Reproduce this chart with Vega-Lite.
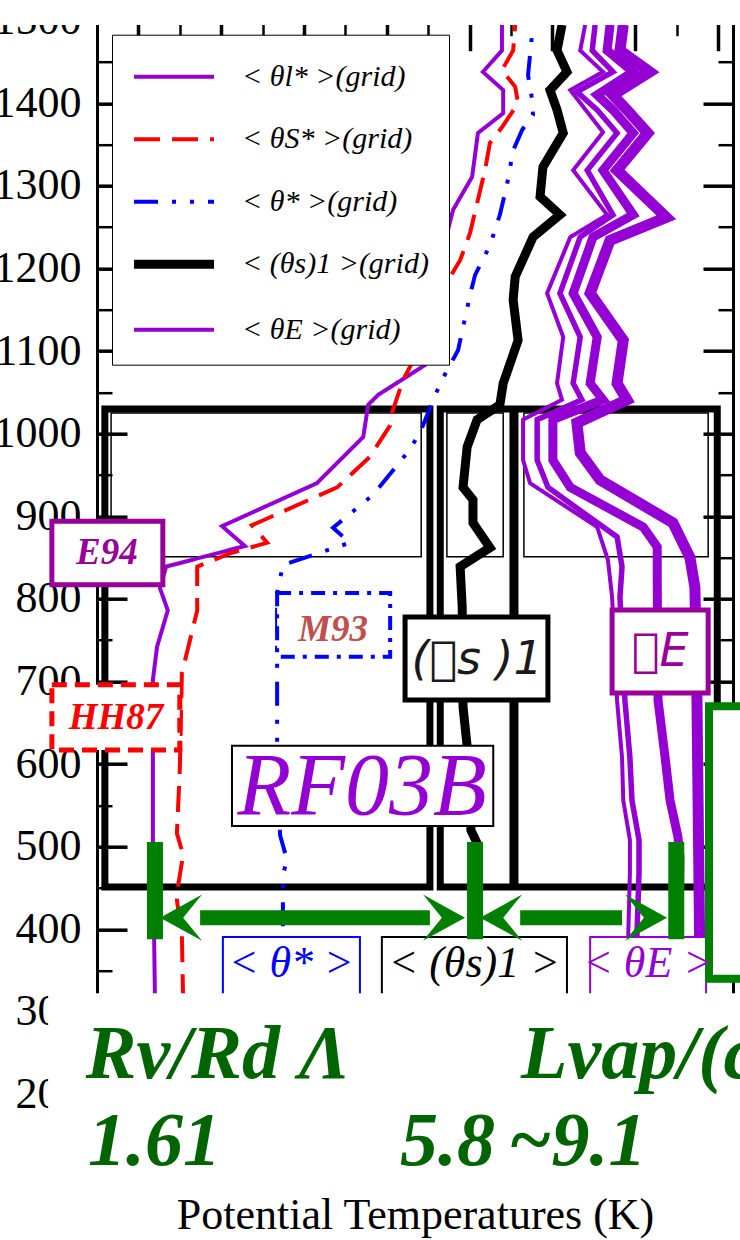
{
 "$schema": "https://vega.github.io/schema/vega-lite/v6.json",
 "width": 636, "height": 1115,
 "autosize": "none",
 "padding": {"left": 97, "top": 20.7, "right": 7, "bottom": 104.3},
 "background": "white",
 "config": {"view": {"stroke": null}},
 "resolve": {"axis": {"x": "independent", "y": "independent"}},
 "encoding": {
  "x": {"field": "x", "type": "quantitative", "scale": {"domain": [289, 304.36], "nice": false, "zero": false}, "axis": null},
  "y": {"field": "y", "type": "quantitative", "scale": {"domain": [150, 1500], "nice": false, "zero": false}, "axis": null}
 },
 "layer": [
  {
   "data": {"values": [{"x":289.34,"x2":296.83,"y":1025,"y2":851},{"x":297.45,"x2":298.81,"y":1025,"y2":851},{"x":299.31,"x2":303.76,"y":1025,"y2":851}]},
   "mark": {"type": "rect", "filled": false, "stroke": "black", "strokeWidth": 1.5, "clip": false},
   "encoding": {
    "x": {"field": "x", "type": "quantitative", "scale": {"domain": [289, 304.36], "nice": false, "zero": false},
      "axis": {"orient": "bottom", "labels": false, "ticks": false, "domain": false, "grid": false, "title": "Potential Temperatures (K)", "titleFont": "Liberation Serif", "titleFontSize": 44, "titleFontWeight": "normal", "titleColor": "black", "titleBaseline": "alphabetic", "titleY": 92.3, "zindex": 0}},
    "y": {"field": "y", "type": "quantitative", "scale": {"domain": [150, 1500], "nice": false, "zero": false},
      "axis": {"orient": "left", "values": [200,300,400,500,600,700,800,900,1000,1100,1200,1300,1400,1500], "format": "d", "ticks": false, "tickSize": 0, "labelPadding": 16, "labelFont": "Liberation Serif", "labelFontSize": 44, "labelColor": "black", "labelOverlap": false, "labelFlush": false, "domain": true, "domainColor": "black", "domainWidth": 3, "grid": false, "title": null, "zindex": 0}},
    "x2": {"field": "x2"}, "y2": {"field": "y2"}
   }
  },
  {
   "data": {"values": [{"x":289.19,"x2":297.04,"y":1030,"y2":451},{"x":297.29,"x2":303.98,"y":1030,"y2":451}]},
   "mark": {"type": "rect", "filled": false, "stroke": "black", "strokeWidth": 7, "clip": false},
   "encoding": {
    "x": {"field": "x", "type": "quantitative", "scale": {"domain": [289, 304.36], "nice": false, "zero": false},
      "axis": {"orient": "bottom", "offset": -1115, "values": [290,292,294,296,298,300,302,304], "labels": false, "domain": false, "ticks": true, "tickSize": 30, "tickWidth": 3.5, "tickColor": "black", "grid": false, "title": null, "zindex": 0}},
    "y": {"field": "y", "type": "quantitative", "scale": {"domain": [150, 1500], "nice": false, "zero": false},
      "axis": {"orient": "right", "offset": -636, "values": [200,300,400,500,600,700,800,900,1000,1100,1200,1300,1400,1500], "labels": false, "domain": false, "ticks": true, "tickSize": 30, "tickWidth": 3.5, "tickColor": "black", "grid": false, "title": null, "zindex": 0}},
    "x2": {"field": "x2"}, "y2": {"field": "y2"}
   }
  },
  {
   "data": {"values": [{"x":299.07,"y":1030,"y2":451}]},
   "mark": {"type": "rule", "color": "black", "strokeWidth": 9},
   "encoding": {
    "x": {"field": "x", "type": "quantitative", "scale": {"domain": [289, 304.36], "nice": false, "zero": false},
      "axis": {"orient": "bottom", "offset": -1115, "values": [289,291,293,295,297,299,301,303], "labels": false, "domain": false, "ticks": true, "tickSize": 15, "tickWidth": 2.5, "tickColor": "black", "grid": false, "title": null, "zindex": 0}},
    "y": {"field": "y", "type": "quantitative", "scale": {"domain": [150, 1500], "nice": false, "zero": false},
      "axis": {"orient": "right", "offset": -636, "values": [250,350,450,550,650,750,850,950,1050,1150,1250,1350,1450], "labels": false, "domain": false, "ticks": true, "tickSize": 15, "tickWidth": 2.5, "tickColor": "black", "grid": false, "title": null, "zindex": 0}},
    "y2": {"field": "y2"}
   }
  },
  {
   "data": {"values": [
    {"series":"E4","x":301.71,"y":1495},{"series":"E4","x":301.63,"y":1464},{"series":"E4","x":302.35,"y":1438},{"series":"E4","x":301.46,"y":1410},{"series":"E4","x":301.80,"y":1392},{"series":"E4","x":302.30,"y":1364},{"series":"E4","x":301.56,"y":1319},{"series":"E4","x":302.75,"y":1262},{"series":"E4","x":301.39,"y":1234},{"series":"E4","x":300.91,"y":1170},{"series":"E4","x":301.71,"y":1113},{"series":"E4","x":301.56,"y":1061},{"series":"E4","x":301.80,"y":1041},{"series":"E4","x":300.59,"y":1013},{"series":"E4","x":300.67,"y":977},{"series":"E4","x":301.15,"y":944},{"series":"E4","x":302.91,"y":892},{"series":"E4","x":303.32,"y":850},{"series":"E4","x":303.44,"y":814},{"series":"E4","x":303.49,"y":677},{"series":"E4","x":303.57,"y":314}
   ]},
   "mark": {"type": "line", "color": "#9400D3", "strokeWidth": 11, "clip": false},
   "encoding": {"order": {"field": "y", "type": "quantitative"}}
  },
  {
   "data": {"values": [
    {"series":"E3","x":301.39,"y":1495},{"series":"E3","x":301.32,"y":1464},{"series":"E3","x":301.95,"y":1438},{"series":"E3","x":301.08,"y":1410},{"series":"E3","x":301.46,"y":1392},{"series":"E3","x":301.95,"y":1364},{"series":"E3","x":301.22,"y":1319},{"series":"E3","x":301.95,"y":1265},{"series":"E3","x":300.98,"y":1238},{"series":"E3","x":300.50,"y":1170},{"series":"E3","x":301.08,"y":1117},{"series":"E3","x":300.91,"y":1061},{"series":"E3","x":301.22,"y":1041},{"series":"E3","x":300.01,"y":1017},{"series":"E3","x":300.01,"y":968},{"series":"E3","x":300.43,"y":935},{"series":"E3","x":302.19,"y":887},{"series":"E3","x":302.53,"y":863},{"series":"E3","x":302.53,"y":823},{"series":"E3","x":302.55,"y":677},{"series":"E3","x":302.72,"y":608},{"series":"E3","x":302.84,"y":556},{"series":"E3","x":303.03,"y":512},{"series":"E3","x":303.08,"y":487},{"series":"E3","x":303.03,"y":314}
   ]},
   "mark": {"type": "line", "color": "#9400D3", "strokeWidth": 9, "clip": false},
   "encoding": {"order": {"field": "y", "type": "quantitative"}}
  },
  {
   "data": {"values": [
    {"series":"E2","x":301.03,"y":1495},{"series":"E2","x":300.96,"y":1464},{"series":"E2","x":301.46,"y":1438},{"series":"E2","x":300.59,"y":1414},{"series":"E2","x":301.08,"y":1392},{"series":"E2","x":301.56,"y":1364},{"series":"E2","x":300.84,"y":1319},{"series":"E2","x":301.46,"y":1265},{"series":"E2","x":300.67,"y":1238},{"series":"E2","x":300.18,"y":1170},{"series":"E2","x":300.67,"y":1117},{"series":"E2","x":300.50,"y":1061},{"series":"E2","x":300.71,"y":1041},{"series":"E2","x":299.63,"y":1017},{"series":"E2","x":299.63,"y":968},{"series":"E2","x":299.89,"y":935},{"series":"E2","x":301.56,"y":875},{"series":"E2","x":301.68,"y":839},{"series":"E2","x":301.63,"y":802},{"series":"E2","x":301.75,"y":677},{"series":"E2","x":301.87,"y":608},{"series":"E2","x":301.92,"y":556},{"series":"E2","x":302.09,"y":508},{"series":"E2","x":302.09,"y":468},{"series":"E2","x":302.04,"y":393},{"series":"E2","x":302.04,"y":314}
   ]},
   "mark": {"type": "line", "color": "#9400D3", "strokeWidth": 5.5, "clip": false},
   "encoding": {"order": {"field": "y", "type": "quantitative"}}
  },
  {
   "data": {"values": [
    {"series":"s1","x":300.23,"y":1495},{"series":"s1","x":300.11,"y":1464},{"series":"s1","x":300.35,"y":1438},{"series":"s1","x":299.94,"y":1416},{"series":"s1","x":300.11,"y":1392},{"series":"s1","x":300.26,"y":1364},{"series":"s1","x":299.77,"y":1323},{"series":"s1","x":299.70,"y":1287},{"series":"s1","x":300.18,"y":1265},{"series":"s1","x":299.53,"y":1238},{"series":"s1","x":299.10,"y":1190},{"series":"s1","x":299.05,"y":1162},{"series":"s1","x":299.17,"y":1113},{"series":"s1","x":298.81,"y":1061},{"series":"s1","x":298.73,"y":1035},{"series":"s1","x":298.18,"y":1017},{"series":"s1","x":297.94,"y":984},{"series":"s1","x":297.84,"y":935},{"series":"s1","x":298.08,"y":920},{"series":"s1","x":298.08,"y":892},{"series":"s1","x":298.49,"y":862},{"series":"s1","x":297.77,"y":839},{"series":"s1","x":297.82,"y":790},{"series":"s1","x":297.84,"y":669},{"series":"s1","x":297.94,"y":621},{"series":"s1","x":298.01,"y":581},{"series":"s1","x":298.03,"y":520},{"series":"s1","x":298.20,"y":502},{"series":"s1","x":298.20,"y":314}
   ]},
   "mark": {"type": "line", "color": "black", "strokeWidth": 9, "clip": false},
   "encoding": {"order": {"field": "y", "type": "quantitative"}}
  },
  {
   "data": {"values": [
    {"series":"l","x":298.78,"y":1495},{"series":"l","x":298.78,"y":1464},{"series":"l","x":298.32,"y":1438},{"series":"l","x":298.81,"y":1416},{"series":"l","x":298.81,"y":1388},{"series":"l","x":298.20,"y":1364},{"series":"l","x":298.06,"y":1311},{"series":"l","x":297.60,"y":1271},{"series":"l","x":297.29,"y":1210},{"series":"l","x":297.16,"y":1138},{"series":"l","x":296.92,"y":1083},{"series":"l","x":295.79,"y":1047},{"series":"l","x":295.55,"y":1035},{"series":"l","x":295.43,"y":996},{"series":"l","x":294.31,"y":940},{"series":"l","x":292.02,"y":888},{"series":"l","x":292.57,"y":864},{"series":"l","x":290.67,"y":839},{"series":"l","x":290.52,"y":813},{"series":"l","x":290.71,"y":786},{"series":"l","x":290.45,"y":742},{"series":"l","x":290.35,"y":702},{"series":"l","x":290.35,"y":581},{"series":"l","x":290.35,"y":502},{"series":"l","x":290.40,"y":314},
    {"series":"S","x":299.10,"y":1495},{"series":"S","x":299.05,"y":1464},{"series":"S","x":298.78,"y":1440},{"series":"S","x":299.10,"y":1420},{"series":"S","x":299.17,"y":1400},{"series":"S","x":298.78,"y":1371},{"series":"S","x":298.49,"y":1352},{"series":"S","x":298.37,"y":1319},{"series":"S","x":298.18,"y":1279},{"series":"S","x":298.01,"y":1243},{"series":"S","x":297.77,"y":1210},{"series":"S","x":297.53,"y":1190},{"series":"S","x":297.04,"y":1126},{"series":"S","x":296.56,"y":1081},{"series":"S","x":296.39,"y":1065},{"series":"S","x":296.13,"y":1026},{"series":"S","x":296.08,"y":1010},{"series":"S","x":295.59,"y":972},{"series":"S","x":294.80,"y":935},{"series":"S","x":292.74,"y":889},{"series":"S","x":293.11,"y":868},{"series":"S","x":292.21,"y":855},{"series":"S","x":291.42,"y":839},{"series":"S","x":291.42,"y":786},{"series":"S","x":291.05,"y":710},{"series":"S","x":291.00,"y":593},{"series":"S","x":290.93,"y":516},{"series":"S","x":291.08,"y":490},{"series":"S","x":290.96,"y":453},{"series":"S","x":290.93,"y":435},{"series":"S","x":291.05,"y":393},{"series":"S","x":291.08,"y":314},
    {"series":"st","x":299.53,"y":1495},{"series":"st","x":299.41,"y":1434},{"series":"st","x":299.51,"y":1404},{"series":"st","x":299.53,"y":1386},{"series":"st","x":299.27,"y":1368},{"series":"st","x":299.05,"y":1343},{"series":"st","x":298.90,"y":1301},{"series":"st","x":298.73,"y":1265},{"series":"st","x":298.49,"y":1228},{"series":"st","x":298.13,"y":1192},{"series":"st","x":298.01,"y":1168},{"series":"st","x":297.72,"y":1101},{"series":"st","x":297.33,"y":1065},{"series":"st","x":297.12,"y":1041},{"series":"st","x":296.80,"y":1001},{"series":"st","x":296.51,"y":978},{"series":"st","x":295.67,"y":926},{"series":"st","x":294.70,"y":886},{"series":"st","x":295.11,"y":868},{"series":"st","x":293.49,"y":841},{"series":"st","x":293.35,"y":807},{"series":"st","x":293.35,"y":621},{"series":"st","x":293.42,"y":514},{"series":"st","x":293.59,"y":484},{"series":"st","x":293.49,"y":466},{"series":"st","x":293.49,"y":314},
    {"series":"E1","x":300.79,"y":1495},{"series":"E1","x":300.67,"y":1464},{"series":"E1","x":301.22,"y":1438},{"series":"E1","x":300.43,"y":1416},{"series":"E1","x":300.74,"y":1396},{"series":"E1","x":301.22,"y":1365},{"series":"E1","x":300.50,"y":1319},{"series":"E1","x":301.32,"y":1265},{"series":"E1","x":300.43,"y":1238},{"series":"E1","x":299.87,"y":1170},{"series":"E1","x":300.26,"y":1117},{"series":"E1","x":300.11,"y":1061},{"series":"E1","x":300.23,"y":1041},{"series":"E1","x":299.29,"y":1017},{"series":"E1","x":299.29,"y":968},{"series":"E1","x":299.46,"y":940},{"series":"E1","x":301.08,"y":887},{"series":"E1","x":301.34,"y":847},{"series":"E1","x":301.44,"y":802},{"series":"E1","x":301.56,"y":677},{"series":"E1","x":301.68,"y":608},{"series":"E1","x":301.71,"y":556},{"series":"E1","x":301.87,"y":508},{"series":"E1","x":301.87,"y":468},{"series":"E1","x":301.83,"y":393},{"series":"E1","x":301.83,"y":314}
   ]},
   "mark": {"type": "line", "strokeWidth": 4, "clip": false},
   "encoding": {
    "y": {"field": "y", "type": "quantitative", "scale": {"domain": [150, 1500], "nice": false, "zero": false},
      "axis": {"orient": "left", "offset": -636, "values": [200,300,400,500,600,700,800,900,1000,1100,1200,1300,1400,1500], "labels": false, "domain": true, "domainColor": "black", "domainWidth": 3, "ticks": true, "tickSize": 30, "tickWidth": 3.5, "tickColor": "black", "grid": false, "title": null, "zindex": 0}},
    "order": {"field": "y", "type": "quantitative"},
    "color": {"field": "series", "type": "nominal",
      "scale": {"domain": ["l","S","st","s1","E1"], "range": ["#9400D3","#FF0000","#0000FF","#000000","#9400D3"]},
      "legend": {"orient": "none", "legendX": 15, "legendY": 14, "title": null, "values": ["l","S","st","s1","E1"],
        "labelExpr": "datum.value == 'l' ? '< θl* >(grid)' : datum.value == 'S' ? '< θS* >(grid)' : datum.value == 'st' ? '< θ* >(grid)' : datum.value == 's1' ? '< (θs)1 >(grid)' : '< θE >(grid)'",
        "labelFont": "Liberation Serif", "labelFontSize": 30, "labelFontStyle": "italic", "labelColor": "black", "labelLimit": 500,
        "symbolType": "M-1,0H3", "symbolSize": 1600, "symbolStrokeWidth": {"expr": "(datum.value == 's1' ? 9 : 4)"}, "labelOffset": 66, "rowPadding": 25.5, "padding": 20, "strokeColor": "black", "fillColor": "white"}},
    "strokeDash": {"field": "series", "type": "nominal",
      "scale": {"domain": ["l","S","st","s1","E1"], "range": [[1,0],[26,12],[24,14,4,14,4,14],[1,0],[1,0]]},
      "legend": {"orient": "none", "legendX": 15, "legendY": 14, "title": null, "values": ["l","S","st","s1","E1"],
        "labelExpr": "datum.value == 'l' ? '< θl* >(grid)' : datum.value == 'S' ? '< θS* >(grid)' : datum.value == 'st' ? '< θ* >(grid)' : datum.value == 's1' ? '< (θs)1 >(grid)' : '< θE >(grid)'",
        "labelFont": "Liberation Serif", "labelFontSize": 30, "labelFontStyle": "italic", "labelColor": "black", "labelLimit": 500,
        "symbolType": "M-1,0H3", "symbolSize": 1600, "symbolStrokeWidth": {"expr": "(datum.value == 's1' ? 9 : 4)"}, "labelOffset": 66, "rowPadding": 25.5, "padding": 20, "strokeColor": "black", "fillColor": "white"}}
   }
  },
  {
   "data": {"values": [{"x":287.91,"x2":290.59,"y":894,"y2":817}]},
   "mark": {"type": "rect", "fill": "white", "stroke": "#990099", "strokeWidth": 5, "clip": false},
   "encoding": {
    "y": {"field": "y", "type": "quantitative", "scale": {"domain": [150, 1500], "nice": false, "zero": false},
      "axis": {"orient": "left", "offset": -636, "values": [250,350,450,550,650,750,850,950,1050,1150,1250,1350,1450], "labels": false, "domain": false, "ticks": true, "tickSize": 15, "tickWidth": 2.5, "tickColor": "black", "grid": false, "title": null, "zindex": 0}},
    "x2": {"field": "x2"}, "y2": {"field": "y2"}
   }
  },
  {
   "data": {"values": [{"x":287.91,"x2":291.0,"y":696,"y2":617}]},
   "mark": {"type": "rect", "fill": "white", "stroke": "#FF0000", "strokeWidth": 5, "strokeDash": [15, 8], "clip": false},
   "encoding": {"x2": {"field": "x2"}, "y2": {"field": "y2"}}
  },
  {
   "data": {"values": [{"x":293.35,"x2":296.08,"y":807,"y2":730}]},
   "mark": {"type": "rect", "fill": "white", "stroke": "#0000FF", "strokeWidth": 4, "strokeDash": [14, 8, 4, 8], "clip": false},
   "encoding": {"x2": {"field": "x2"}, "y2": {"field": "y2"}}
  },
  {
   "data": {"values": [{"x":296.44,"x2":299.89,"y":778,"y2":677.5}]},
   "mark": {"type": "rect", "fill": "white", "stroke": "black", "strokeWidth": 5, "clip": false},
   "encoding": {"x2": {"field": "x2"}, "y2": {"field": "y2"}}
  },
  {
   "data": {"values": [{"x":301.44,"x2":303.76,"y":786.5,"y2":686}]},
   "mark": {"type": "rect", "fill": "white", "stroke": "#990099", "strokeWidth": 5, "clip": false},
   "encoding": {"x2": {"field": "x2"}, "y2": {"field": "y2"}}
  },
  {
   "data": {"values": [{"x":292.26,"x2":298.57,"y":622,"y2":525}]},
   "mark": {"type": "rect", "fill": "white", "stroke": "black", "strokeWidth": 2, "clip": false},
   "encoding": {"x2": {"field": "x2"}, "y2": {"field": "y2"}}
  },
  {
   "data": {"values": [{"x":292.04,"x2":295.35,"y":390.5,"y2":302}]},
   "mark": {"type": "rect", "fill": "white", "stroke": "#0000FF", "strokeWidth": 2, "clip": false},
   "encoding": {"x2": {"field": "x2"}, "y2": {"field": "y2"}}
  },
  {
   "data": {"values": [{"x":295.88,"x2":300.35,"y":390.5,"y2":302}]},
   "mark": {"type": "rect", "fill": "white", "stroke": "black", "strokeWidth": 2, "clip": false},
   "encoding": {"x2": {"field": "x2"}, "y2": {"field": "y2"}}
  },
  {
   "data": {"values": [{"x":300.91,"x2":303.71,"y":390.5,"y2":302}]},
   "mark": {"type": "rect", "fill": "white", "stroke": "#9400D3", "strokeWidth": 2, "clip": false},
   "encoding": {"x2": {"field": "x2"}, "y2": {"field": "y2"}}
  },
  {
   "data": {"values": [{"x":303.78,"x2":305.9,"y":670,"y2":340}]},
   "mark": {"type": "rect", "fill": "white", "stroke": "#008000", "strokeWidth": 8, "clip": false},
   "encoding": {"x2": {"field": "x2"}, "y2": {"field": "y2"}}
  },
  {
   "data": {"values": [{"x":289.24,"y":855,"t":"E94"}]},
   "mark": {"type": "text", "font": "Liberation Serif", "fontSize": 37, "fontWeight": "bold", "fontStyle": "italic", "color": "#990099", "align": "center", "baseline": "middle", "clip": false},
   "encoding": {"text": {"field": "t"}}
  },
  {
   "data": {"values": [{"x":289.46,"y":656,"t":"HH87"}]},
   "mark": {"type": "text", "font": "Liberation Serif", "fontSize": 37, "fontWeight": "bold", "fontStyle": "italic", "color": "#FF0000", "align": "center", "baseline": "middle", "clip": false},
   "encoding": {"text": {"field": "t"}}
  },
  {
   "data": {"values": [{"x":294.70,"y":762,"t":"M93"}]},
   "mark": {"type": "text", "font": "Liberation Serif", "fontSize": 37, "fontWeight": "bold", "fontStyle": "italic", "color": "#C0504D", "align": "center", "baseline": "middle", "clip": false},
   "encoding": {"text": {"field": "t"}}
  },
  {
   "data": {"values": [{"x":298.18,"y":726,"t":"(\uf071s )1"}]},
   "mark": {"type": "text", "font": "DejaVu Sans", "fontSize": 46, "fontStyle": "italic", "color": "#1a1a1a", "align": "center", "baseline": "middle", "clip": false},
   "encoding": {"text": {"field": "t"}}
  },
  {
   "data": {"values": [{"x":302.60,"y":736,"t":"\uf071E"}]},
   "mark": {"type": "text", "font": "DejaVu Sans", "fontSize": 46, "fontStyle": "italic", "color": "#990099", "align": "center", "baseline": "middle", "clip": false},
   "encoding": {"text": {"field": "t"}}
  },
  {
   "data": {"values": [{"x":295.40,"y":571,"t":"RF03B"}]},
   "mark": {"type": "text", "font": "Liberation Serif", "fontSize": 88, "fontStyle": "italic", "color": "#9400D3", "align": "center", "baseline": "middle", "clip": false},
   "encoding": {"text": {"field": "t"}}
  },
  {
   "data": {"values": [{"x":293.69,"y":342,"t":"< θ* >"}]},
   "mark": {"type": "text", "font": "Liberation Serif", "fontSize": 44, "fontStyle": "italic", "color": "#0000FF", "align": "center", "baseline": "alphabetic", "clip": false},
   "encoding": {"text": {"field": "t"}}
  },
  {
   "data": {"values": [{"x":298.11,"y":342,"t":"< (θs)1 >"}]},
   "mark": {"type": "text", "font": "Liberation Serif", "fontSize": 44, "fontStyle": "italic", "color": "black", "align": "center", "baseline": "alphabetic", "clip": false},
   "encoding": {"text": {"field": "t"}}
  },
  {
   "data": {"values": [{"x":302.31,"y":342,"t":"< θE >"}]},
   "mark": {"type": "text", "font": "Liberation Serif", "fontSize": 44, "fontStyle": "italic", "color": "#9400D3", "align": "center", "baseline": "alphabetic", "clip": false},
   "encoding": {"text": {"field": "t"}}
  },
  {
   "data": {"values": [{"x":290.40,"y":505.6,"y2":388},{"x":298.13,"y":505.6,"y2":388},{"x":302.99,"y":505.6,"y2":388}]},
   "mark": {"type": "rule", "color": "#008000", "strokeWidth": 16},
   "encoding": {"y2": {"field": "y2"}}
  },
  {
   "data": {"values": [{"x":291.49,"x2":297.04,"y":414},{"x":299.22,"x2":301.68,"y":414}]},
   "mark": {"type": "rule", "color": "#008000", "strokeWidth": 15},
   "encoding": {"x2": {"field": "x2"}}
  },
  {
   "data": {"values": [{"x":291.03,"y":414},{"x":298.76,"y":414}]},
   "mark": {"type": "point", "shape": "M-1,0L1,-1.1L0.1,0L1,1.1Z", "size": 1764, "filled": true, "color": "#008000", "opacity": 1, "strokeWidth": 0, "clip": false}
  },
  {
   "data": {"values": [{"x":297.38,"y":414},{"x":302.26,"y":414}]},
   "mark": {"type": "point", "shape": "M1,0L-1,-1.1L-0.1,0L-1,1.1Z", "size": 1764, "filled": true, "color": "#008000", "opacity": 1, "strokeWidth": 0, "clip": false}
  },
  {
   "data": {"values": [{"x":287.82,"x2":306,"y":322.6,"y2":77.8},{"x":284,"x2":306,"y":1494.8,"y2":1540}]},
   "mark": {"type": "rect", "color": "white", "strokeWidth": 0, "clip": false},
   "encoding": {"x2": {"field": "x2"}, "y2": {"field": "y2"}}
  },
  {
   "data": {"values": [{"x":288.73,"y":219.8,"t":"Rv/Rd Λ"},{"x":299.24,"y":219.8,"t":"Lvap/(cpd T)"},{"x":288.78,"y":114.5,"t":"1.61"},{"x":296.32,"y":114.5,"t":"5.8"},{"x":298.93,"y":114.5,"t":"~9.1"}]},
   "mark": {"type": "text", "font": "Liberation Serif", "fontSize": 76, "fontWeight": "bold", "fontStyle": "italic", "color": "#006400", "align": "left", "baseline": "alphabetic", "clip": false},
   "encoding": {"text": {"field": "t"}}
  }
 ]
}
